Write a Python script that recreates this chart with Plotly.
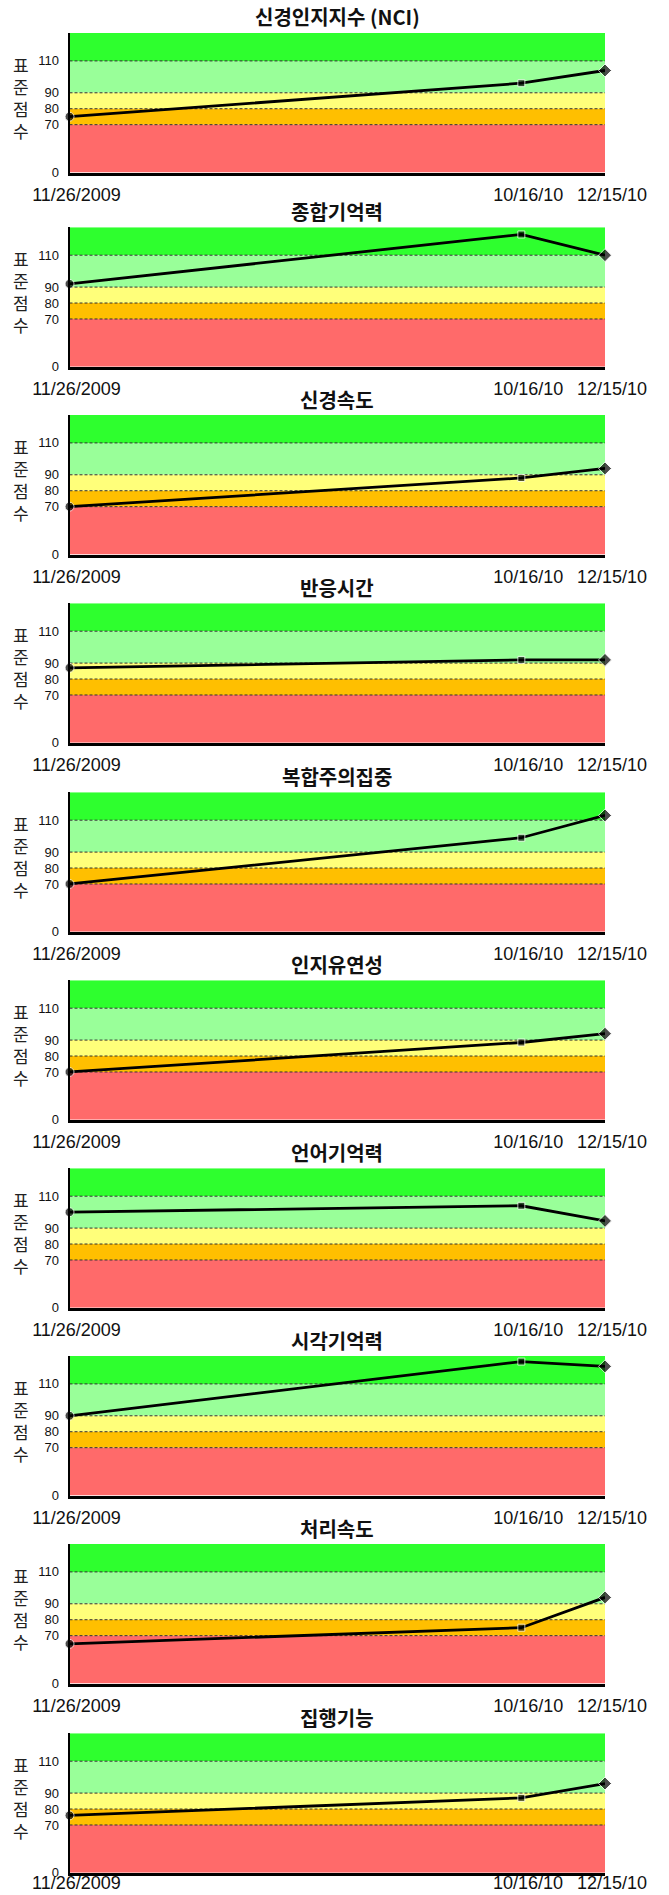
import plotly.graph_objects as go

# ---------------- data ----------------
titles = ["신경인지지수 (NCI)", "종합기억력", "신경속도", "반응시간", "복합주의집중",
          "인지유연성", "언어기억력", "시각기억력", "처리속도", "집행기능"]
dates = ["2009-11-26", "2010-10-16", "2010-12-15"]
date_labels = ["11/26/2009", "10/16/10", "12/15/10"]

nci = [75, 96, 104]
memory = [92, 123, 110]
neuro_speed = [70, 88, 94]
reaction = [87, 92, 92]
attention = [70, 99, 113]
flexibility = [70, 88.5, 94]
verbal_mem = [100, 104, 94.5]
visual_mem = [90, 124, 121]
proc_speed = [58, 75, 94]
executive = [76, 87, 96]
series = [nci, memory, neuro_speed, reaction, attention,
          flexibility, verbal_mem, visual_mem, proc_speed, executive]

y_ticks = [0, 70, 80, 90, 110]
y_title = "표<br>준<br>점<br>수"

# ---------------- layout constants ----------------
W, H = 669, 1895
PLOT_LEFT, PLOT_RIGHT = 69.5, 605
PLOT_H = 139.5
plot_tops = [33, 227.3, 415, 603.3, 792.3, 980.3, 1168.3, 1356, 1544, 1733.3]
LAST_LABEL_Y = 1883  # px, centre of the bottom-most date labels
Y_MIN, Y_MAX = 40, 127.5
XFONT = dict(family="Liberation Sans, Arial", size=18, color="#111")


def disp(v):
    """Chart's compressed scale: 0-70 squeezed into 30 units."""
    return v if v >= 70 else 40 + v * 30.0 / 70.0


bands = [(110, 200, "#2EFF2E"), (90, 110, "#99FF99"), (80, 90, "#FFFF7A"),
         (70, 80, "#FFBF00"), (0, 70, "#FF6A6A")]
grid_vals = [110, 90, 80, 70]

fig = go.Figure()
shapes, annotations = [], []
xd = [PLOT_LEFT / W, PLOT_RIGHT / W]
N = len(titles)

for i, (title, vals) in enumerate(zip(titles, series)):
    n = i + 1
    last = (n == N)
    xa = "x" if n == 1 else f"x{n}"
    ya = "y" if n == 1 else f"y{n}"
    top = plot_tops[i]
    bot = top + PLOT_H
    yd = [1 - bot / H, 1 - top / H]

    fig.add_trace(go.Scatter(
        x=dates, y=[disp(v) for v in vals], xaxis=xa, yaxis=ya,
        mode="lines+markers", cliponaxis=False, showlegend=False,
        line=dict(color="black", width=2.8),
        marker=dict(symbol=["circle", "square", "diamond"], size=[9, 7, 10], color="black"),
        hovertext=[str(v) for v in vals],
    ))

    fig.update_layout(**{
        ("xaxis" if n == 1 else f"xaxis{n}"): dict(
            domain=xd, anchor=ya, type="date", automargin=False,
            range=[dates[0], dates[-1]],
            tickmode="array", tickvals=dates, ticktext=date_labels,
            showticklabels=not last,
            tickfont=XFONT,
            showgrid=False, zeroline=False, showline=True, linecolor="black", linewidth=3,
            ticks="", ticklabelshift=7, ticklabelstandoff=4,
        ),
        ("yaxis" if n == 1 else f"yaxis{n}"): dict(
            domain=yd, anchor=xa, range=[Y_MIN, Y_MAX], automargin=False,
            tickmode="array", tickvals=[disp(t) for t in y_ticks],
            ticktext=[str(t) for t in y_ticks],
            tickfont=dict(family="Liberation Sans, Arial", size=13, color="#111"),
            showgrid=False, zeroline=False, showline=True, linecolor="black", linewidth=2,
            ticks="", ticklabelstandoff=6,
        ),
    })

    if last:
        # bottom-most date labels sit tighter to the axis so they stay inside the page
        for d, lab in zip(dates, date_labels):
            annotations.append(dict(text=lab, x=d, xref=xa, y=1 - LAST_LABEL_Y / H,
                                    yref="paper", xanchor="center", yanchor="middle",
                                    xshift=7, showarrow=False, font=XFONT))

    for lo, hi, col in bands:
        shapes.append(dict(type="rect", xref=f"{xa} domain", yref=ya,
                           x0=0, x1=1, y0=disp(lo), y1=min(disp(hi), Y_MAX),
                           fillcolor=col, line=dict(width=0), layer="below"))
    for g in grid_vals:
        shapes.append(dict(type="line", xref=f"{xa} domain", yref=ya,
                           x0=0, x1=1, y0=disp(g), y1=disp(g),
                           line=dict(color="#333", width=1, dash="3px,2px"), layer="below"))

    annotations.append(dict(text=f"<b>{title}</b>", xref="paper", yref="paper",
                            x=(xd[0] + xd[1]) / 2, y=1 - (top - 16) / H,
                            xanchor="center", yanchor="middle", showarrow=False,
                            font=dict(family="Noto Sans CJK KR", size=20, color="#111")))
    annotations.append(dict(text=y_title, xref="paper", yref="paper",
                            x=21 / W, y=1 - (top + 64.5) / H,
                            xanchor="center", yanchor="middle", showarrow=False,
                            font=dict(family="Noto Sans CJK KR", size=17, color="#222")))

fig.update_layout(
    width=W, height=H, margin=dict(l=0, r=0, t=0, b=0),
    paper_bgcolor="white", plot_bgcolor="white",
    shapes=shapes, annotations=annotations,
)

fig.write_html(
    "out.html", config={"displayModeBar": False},
    post_script=("document.body.style.margin='0';"
                 "document.body.style.overflow='hidden';"
                 "document.documentElement.style.overflow='hidden';"),
)
